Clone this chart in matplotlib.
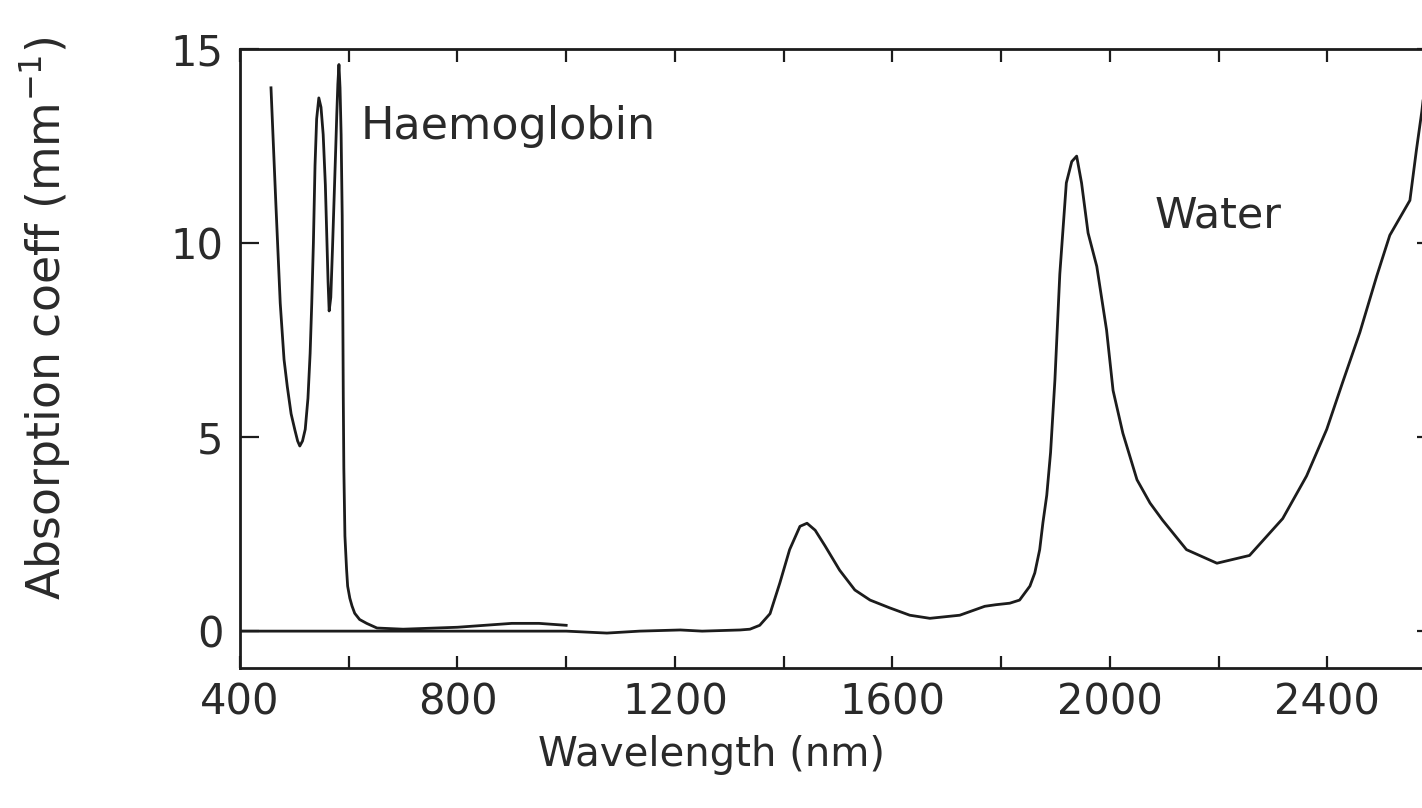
import matplotlib
matplotlib.use("Agg")
import matplotlib.pyplot as plt
from matplotlib.ticker import MultipleLocator

# Haemoglobin absorption (wavelength nm, coefficient mm^-1)
hb_wl = [457, 466, 474, 481, 487, 494, 501, 506, 510, 515, 520, 525, 529, 532, 535, 538,
         541, 545, 549, 553, 557, 560, 562, 564, 567, 570, 573, 576, 578, 580, 582, 584,
         586, 588, 589, 590, 591, 593, 596, 598, 602, 606, 611, 620, 633, 652, 700, 800,
         900, 950, 1000]
hb_abs = [14.0, 11.0, 8.45, 7.0, 6.3, 5.6, 5.18, 4.9, 4.77, 4.9, 5.2, 6.0, 7.16, 8.45, 10.0, 12.0,
          13.2, 13.74, 13.5, 12.8, 11.5, 10.0, 9.0, 8.25, 8.6, 9.8, 11.1, 12.4, 13.3, 14.1, 14.6, 14.0,
          12.8, 10.7, 8.5, 6.0, 4.2, 2.45, 1.6, 1.16, 0.85, 0.65, 0.46, 0.3, 0.2, 0.08, 0.05, 0.1,
          0.2, 0.2, 0.15]

# Water absorption (wavelength nm, coefficient mm^-1)
w_wl = [400, 600, 800, 1000, 1075, 1135, 1210, 1250, 1320, 1338, 1356, 1375, 1393, 1411,
        1430, 1443, 1458, 1476, 1503, 1531, 1559, 1595, 1632, 1669, 1724, 1770, 1790, 1816,
        1834, 1853, 1862, 1871, 1877, 1884, 1891, 1899, 1908, 1920, 1930, 1939, 1948, 1960,
        1976, 1994, 2006, 2024, 2050, 2074, 2097, 2141, 2197, 2257, 2318, 2362, 2399, 2428,
        2460, 2491, 2515, 2552, 2564, 2574, 2582, 2600]
w_abs = [0.0, 0.0, 0.0, 0.0, -0.05, 0.0, 0.03, 0.0, 0.03, 0.05, 0.15, 0.45, 1.24, 2.1,
         2.7, 2.78, 2.6, 2.2, 1.57, 1.06, 0.8, 0.6, 0.41, 0.33, 0.41, 0.64, 0.68, 0.72,
         0.8, 1.16, 1.5, 2.1, 2.8, 3.5, 4.6, 6.47, 9.2, 11.55, 12.1, 12.24, 11.55, 10.26,
         9.4, 7.76, 6.2, 5.1, 3.9, 3.3, 2.86, 2.1, 1.75, 1.95, 2.9, 4.0, 5.2, 6.4,
         7.7, 9.15, 10.2, 11.1, 12.4, 13.4, 14.4, 16.5]

x_ticks = [400, 800, 1200, 1600, 2000, 2400]
y_ticks = [0, 5, 10, 15]

ink = "#1c1c1c"
txt = "#2a2a2a"
plt.rcParams["font.family"] = ["DejaVu Sans"]

fig = plt.figure(figsize=(14.22, 8.08), dpi=100)
ax = fig.add_axes([240 / 1422, (808 - 668) / 808, (1436 - 240) / 1422, (668 - 49) / 808])

ax.plot(hb_wl, hb_abs, color=ink, lw=2.0, solid_joinstyle="round")
ax.plot(w_wl, w_abs, color=ink, lw=2.0, solid_joinstyle="round")

ax.set_xlim(400, 2600)
ax.set_ylim(-0.95, 15)
ax.set_xticks(x_ticks)
ax.set_yticks(y_ticks)
ax.xaxis.set_minor_locator(MultipleLocator(200))
ax.tick_params(which="both", direction="in", top=True, right=True, color=ink,
               width=1.6, labelsize=30, labelcolor=txt)
ax.tick_params(axis="x", which="both", length=9, pad=10)
ax.tick_params(axis="y", which="both", length=14, pad=12)
for s in ax.spines.values():
    s.set_linewidth(2.0)
    s.set_color(ink)

ax.set_xlabel("Wavelength (nm)", fontsize=29, color=txt)
ax.xaxis.set_label_coords((711 - 240) / 1196, (668 - 755) / 619)
ax.xaxis.label.set_va("center")
ax.set_ylabel("Absorption coeff (mm$^{-1}$)", fontsize=33, color=txt)
ax.yaxis.set_label_coords((45 - 240) / 1196, (668 - 318) / 619)
ax.yaxis.label.set_va("center")

ax.text(622, 13.0, "Haemoglobin", fontsize=32, color=txt, va="center", ha="left")
ax.text(2082, 10.7, "Water", fontsize=31, color=txt, va="center", ha="left")

fig.savefig("out.png", dpi=100)
